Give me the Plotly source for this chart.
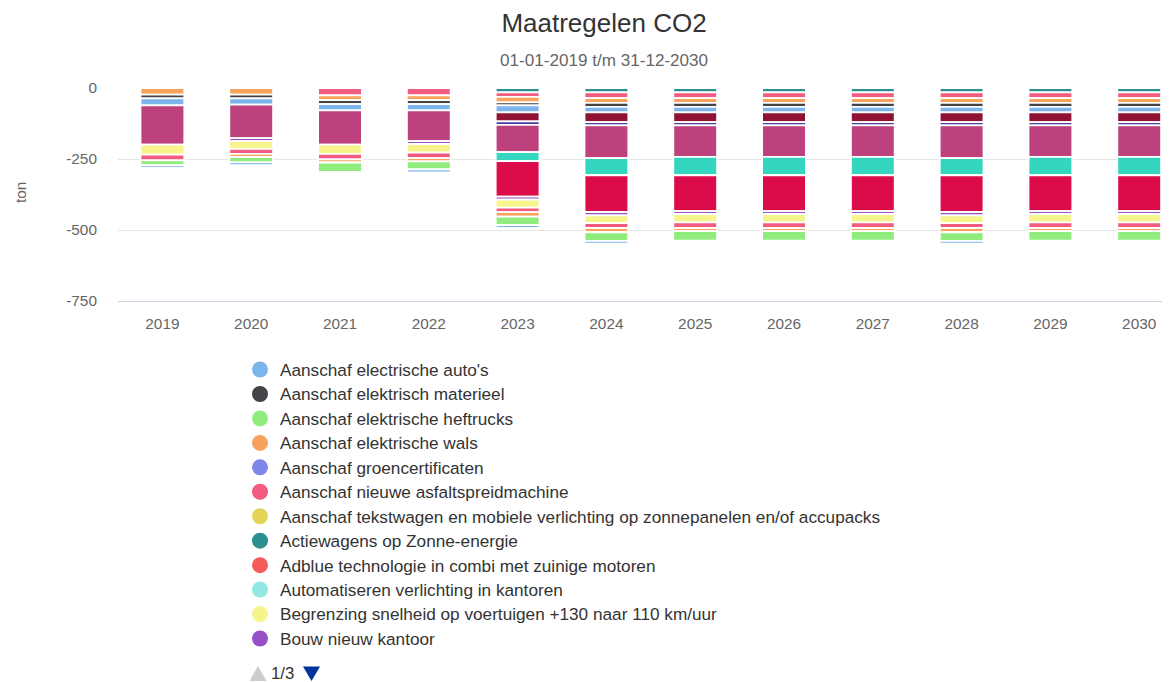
import plotly.graph_objects as go

# ---------------- data (ton CO2 reduction, negative = saving) ----------------
years = ["2019", "2020", "2021", "2022", "2023", "2024",
         "2025", "2026", "2027", "2028", "2029", "2030"]

# series shown on the first legend page (stack order: first = furthest from zero)
aanschaf_electrische_autos = [-9.3, -9.3, 0, -11.2, -10.4, -9.3, 0, 0, 0, -9.3, 0, 0]
aanschaf_elektrisch_materieel = [0, 0, 0, 0, 0, 0, 0, 0, 0, 0, 0, 0]
aanschaf_elektrische_heftrucks = [-17.0, -18.6, -32.7, -28.1, -29.3, -30.6, -33.4, -33.4, -33.4, -30.6, -33.4, -33.4]
aanschaf_elektrische_wals = [0, -11.8, -11.2, -11.1, -16.3, -15.1, -11.1, -11.1, -11.1, -15.1, -11.1, -11.1]
aanschaf_groencertificaten = [0, 0, 0, 0, 0, 0, 0, 0, 0, 0, 0, 0]
aanschaf_asfaltspreidmachine = [-19.8, -17.6, -18.8, -19.3, -15.8, -17.0, -20.0, -20.0, -20.0, -17.0, -20.0, -20.0]
aanschaf_tekstwagen = [0, 0, 0, 0, 0, 0, 0, 0, 0, 0, 0, 0]
actiewagens_zonne_energie = [0, 0, 0, 0, 0, 0, 0, 0, 0, 0, 0, 0]
adblue_technologie = [0, 0, 0, 0, 0, 0, 0, 0, 0, 0, 0, 0]
automatiseren_verlichting = [0, 0, 0, 0, 0, 0, 0, 0, 0, 0, 0, 0]
begrenzing_snelheid = [-35.1, -26.9, -33.2, -30.6, -28.1, -27.4, -29.2, -29.2, -29.2, -27.4, -29.2, -29.2]
bouw_nieuw_kantoor = [0, -10.5, 0, -9.8, -10.5, -11.8, -10.5, -10.5, -10.5, -11.8, -10.5, -10.5]

# series on the other legend pages (names not visible on page 1/3)
maatregel_14 = [0, 0, 0, 0, -124.7, -129.4, -125.9, -125.9, -125.9, -129.4, -125.9, -125.9]
maatregel_15 = [0, 0, 0, 0, -31.6, -60.2, -65.0, -65.0, -65.0, -60.2, -65.0, -65.0]
maatregel_16 = [-138.2, -118.2, -120.1, -108.4, -96.6, -115.4, -110.6, -110.6, -110.6, -115.4, -110.6, -110.6]
maatregel_17 = [0, 0, 0, 0, -11.8, -11.8, -11.8, -11.8, -11.8, -11.8, -11.8, -11.8]
maatregel_19 = [0, 0, 0, 0, -32.1, -34.4, -34.4, -34.4, -34.4, -34.4, -34.4, -34.4]
maatregel_21 = [-24.6, -21.8, -22.3, -22.3, -24.1, -18.8, -18.8, -18.8, -18.8, -18.8, -18.8, -18.8]
maatregel_22 = [-13.3, -13.3, -14.0, -14.0, -11.1, -14.6, -14.6, -14.6, -14.6, -14.6, -14.6, -14.6]
maatregel_24 = [-23.5, -23.5, -16.9, -16.9, -18.8, -16.3, -16.3, -16.3, -16.3, -16.3, -16.3, -16.3]
maatregel_26 = [0, 0, -25.8, -25.8, -16.3, -20.5, -20.5, -20.5, -20.5, -20.5, -20.5, -20.5]
maatregel_28 = [0, 0, 0, 0, -15.3, -15.3, -15.3, -15.3, -15.3, -15.3, -15.3, -15.3]

legend_names = [
    "Aanschaf electrische auto's",
    "Aanschaf elektrisch materieel",
    "Aanschaf elektrische heftrucks",
    "Aanschaf elektrische wals",
    "Aanschaf groencertificaten",
    "Aanschaf nieuwe asfaltspreidmachine",
    "Aanschaf tekstwagen en mobiele verlichting op zonnepanelen en/of accupacks",
    "Actiewagens op Zonne-energie",
    "Adblue technologie in combi met zuinige motoren",
    "Automatiseren verlichting in kantoren",
    "Begrenzing snelheid op voertuigen +130 naar 110 km/uur",
    "Bouw nieuw kantoor",
]
legend_colors = ["#7cb5ec", "#434348", "#90ed7d", "#f7a35c", "#8085e9", "#f15c80",
                 "#e4d354", "#2b908f", "#f45b5b", "#91e8e1", "#f7f48c", "#9650c8"]
legend_values = [aanschaf_electrische_autos, aanschaf_elektrisch_materieel,
                 aanschaf_elektrische_heftrucks, aanschaf_elektrische_wals,
                 aanschaf_groencertificaten, aanschaf_asfaltspreidmachine,
                 aanschaf_tekstwagen, actiewagens_zonne_energie, adblue_technologie,
                 automatiseren_verlichting, begrenzing_snelheid, bouw_nieuw_kantoor]

other_names = ["Maatregel 14", "Maatregel 15", "Maatregel 16", "Maatregel 17", "Maatregel 19",
               "Maatregel 21", "Maatregel 22", "Maatregel 24", "Maatregel 26", "Maatregel 28"]
other_colors = ["#dc0b4a", "#35d6bf", "#bc417d", "#4b3ca2", "#8f1233",
                "#7cb5ec", "#434348", "#f7a35c", "#f15c80", "#2b908f"]
other_values = [maatregel_14, maatregel_15, maatregel_16, maatregel_17, maatregel_19,
                maatregel_21, maatregel_22, maatregel_24, maatregel_26, maatregel_28]

# ---------------- figure ----------------
# the page body has an 8px margin, so the figure is 8px smaller and all
# positions are given in page pixels minus 8
OFF = 8
W, H = 1170 - OFF, 682 - OFF
PL, PR, PT, PB = 118 - OFF, 1170 - OFF, 88 - OFF, 301 - OFF  # plot area in figure px
FONT = "Liberation Sans, Arial, Helvetica, sans-serif"


def px_x(px):
    """page pixel x -> paper coordinate"""
    return (px - OFF - PL) / (PR - PL)


def px_y(py):
    """page pixel y -> paper coordinate"""
    return (PB - (py - OFF)) / (PB - PT)


all_names = legend_names + other_names
all_colors = legend_colors + other_colors
all_values = legend_values + other_values

fig = go.Figure()

# relative stacking: first trace added sits next to zero -> add in reverse order
for name, color, vals in reversed(list(zip(all_names, all_colors, all_values))):
    fig.add_trace(go.Bar(
        x=years,
        y=[v if v != 0 else None for v in vals],
        name=name,
        marker=dict(color=color, line=dict(color="#ffffff", width=1.8)),
        showlegend=False,
        legendgroup=name,
    ))

# legend entries with round symbols (first legend page); text slightly larger
# than the legend font so the row pitch stays at ~24px
for name, color in zip(legend_names, legend_colors):
    fig.add_trace(go.Scatter(
        x=[None], y=[None], mode="markers",
        name=f'<span style="font-size:17.2px">{name}</span>', legendgroup=name,
        marker=dict(color=color, size=16, symbol="circle"),
        showlegend=True,
    ))

cat_w = 88.8
x_end = -0.5 + (PR - PL) / cat_w

fig.update_layout(
    width=W, height=H,
    margin=dict(l=PL, r=W - PR, t=PT, b=H - PB, autoexpand=False),
    paper_bgcolor="#ffffff", plot_bgcolor="#ffffff",
    barmode="relative",
    bargap=1 - 43.8 / cat_w,
    font=dict(family=FONT, color="#666666"),
    title=dict(text="Maatregelen CO2", xref="container", x=(604 - OFF) / W, xanchor="center",
               yref="container", y=1 - (23 - OFF) / H, yanchor="middle",
               font=dict(size=26, color="#333333", family=FONT)),
    showlegend=True,
    legend=dict(
        xref="container", yref="container",
        x=(240 - OFF) / W, xanchor="left",
        y=1 - (352.3 - OFF) / H, yanchor="top",
        orientation="v", traceorder="normal",
        font=dict(size=16.5, color="#333333", family=FONT),
        bgcolor="rgba(0,0,0,0)", borderwidth=0,
        maxheight=500,
        itemclick=False, itemdoubleclick=False,
    ),
    xaxis=dict(
        type="category", categoryorder="array", categoryarray=years,
        range=[-0.5, x_end],
        showgrid=False, zeroline=False,
        showline=True, linecolor="#ccd6eb", linewidth=1,
        ticks="", ticklabelstandoff=9,
        tickfont=dict(size=15.4, color="#666666", family=FONT),
        fixedrange=True,
    ),
    yaxis=dict(
        range=[-750, 0],
        tickvals=[0, -250, -500, -750],
        ticktext=["0", "-250", "-500", "-750"],
        showgrid=True, gridcolor="#e6e6e6", gridwidth=1,
        zeroline=False, showline=False,
        ticks="", ticklabelstandoff=20,
        tickfont=dict(size=15.4, color="#666666", family=FONT),
        fixedrange=True,
    ),
)

# subtitle
fig.add_annotation(text="01-01-2019 t/m 31-12-2030", xref="paper", yref="paper",
                   x=px_x(604), y=px_y(60), xanchor="center", yanchor="middle",
                   showarrow=False, font=dict(size=17.1, color="#666666", family=FONT))
# y-axis title
fig.add_annotation(text="ton", xref="paper", yref="paper",
                   x=px_x(20), y=px_y(193), xanchor="center", yanchor="middle",
                   textangle=-90, showarrow=False,
                   font=dict(size=15.4, color="#666666", family=FONT))
# legend page navigation
fig.add_annotation(text="1/3", xref="paper", yref="paper",
                   x=px_x(282.5), y=px_y(673), xanchor="center", yanchor="middle",
                   showarrow=False, font=dict(size=16.8, color="#333333", family=FONT))


def tri_path(pts):
    return "M " + " L ".join(f"{px_x(a)},{px_y(b)}" for a, b in pts) + " Z"


fig.add_shape(type="path", xref="paper", yref="paper",
              path=tri_path([(249.5, 681), (266.5, 681), (258, 666)]),
              fillcolor="#cccccc", line=dict(width=0))
fig.add_shape(type="path", xref="paper", yref="paper",
              path=tri_path([(303, 666.5), (320, 666.5), (311.5, 681)]),
              fillcolor="#003399", line=dict(width=0))

fig.write_html("out.html")
